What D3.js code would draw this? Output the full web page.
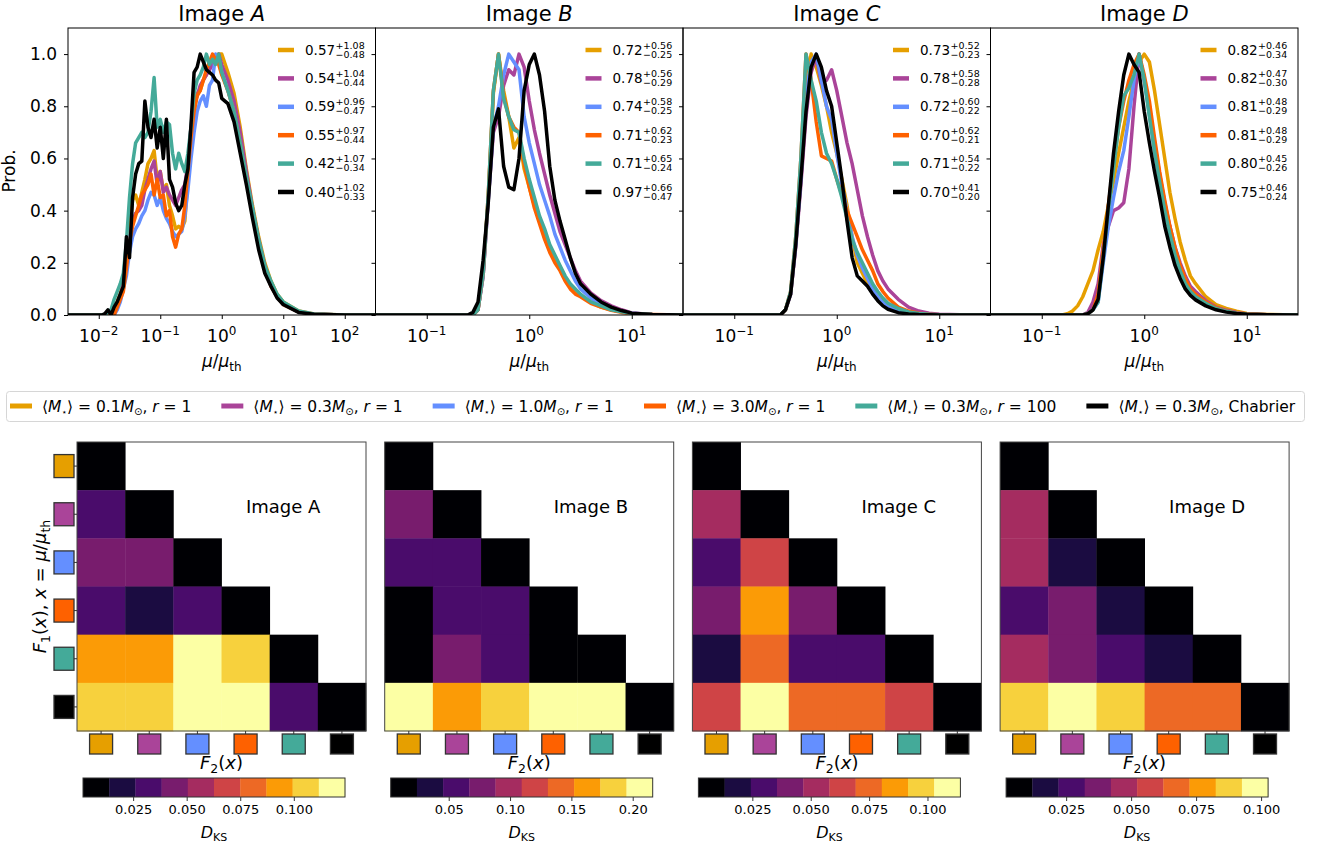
<!DOCTYPE html>
<html><head><meta charset="utf-8">
<script src="https://cdn.jsdelivr.net/npm/d3@7"></script>
<style>body{margin:0;background:#fff} svg{display:block} text{font-family:"DejaVu Sans",sans-serif;fill:#000}</style>
</head><body><svg id="c" width="1325" height="845"></svg>
<script>
// ---------------- DATA ----------------
const seriesColors = ["#E69F00","#AA4499","#648FFF","#FE6100","#44AA99","#000000"];
const seriesMass = ["0.1","0.3","1.0","3.0","0.3","0.3"];
const seriesTail = ["r1","r1","r1","r1","r100","Chabrier"];
const panelNames = ["A","B","C","D"];

// log10(mu/mu_th) grids
const gridA = [-2.5,-2.0,-1.95,-1.9,-1.85,-1.8,-1.75,-1.7,-1.65,-1.6,-1.55,-1.5,-1.45,-1.4,-1.35,-1.3,-1.25,-1.2,-1.15,-1.1,-1.05,-1.0,-0.95,-0.9,-0.85,-0.8,-0.75,-0.7,-0.65,-0.6,-0.55,-0.5,-0.45,-0.4,-0.35,-0.3,-0.25,-0.2,-0.15,-0.1,-0.05,0.0,0.1,0.2,0.3,0.4,0.5,0.6,0.7,0.8,0.9,1.0,1.25,1.5,2.0,2.5];
const gridBCD = [-1.5,-0.8,-0.75,-0.7,-0.65,-0.6,-0.55,-0.5,-0.45,-0.4,-0.35,-0.3,-0.25,-0.2,-0.15,-0.1,-0.05,0,0.05,0.1,0.15,0.2,0.25,0.3,0.35,0.4,0.45,0.5,0.6,0.7,0.8,0.9,1.0,1.2,1.5];

// Image A probabilities (gold, purple, blue, orange, teal, black)
const probA = [
 [0, 0,0,0,0,0, 0.02,0.05,0.08,0.13,0.24, 0.34,0.44,0.46,0.42,0.47, 0.52,0.58,0.60,0.63,0.52, 0.55,0.48,0.50,0.42,0.38, 0.33,0.34,0.33,0.36,0.52, 0.70,0.78,0.85,0.86,0.90, 0.92,0.95,0.97,0.99,1.0, 1.0,0.93,0.85,0.72,0.56, 0.42,0.30,0.20,0.13,0.08, 0.05,0.015,0.004,0,0],
 [0, 0,0,0,0,0, 0.01,0.04,0.07,0.12,0.20, 0.30,0.36,0.39,0.40,0.42, 0.48,0.52,0.56,0.59,0.50, 0.55,0.47,0.49,0.46,0.44, 0.42,0.45,0.48,0.50,0.58, 0.72,0.80,0.84,0.88,0.90, 0.92,0.94,0.96,0.99,1.0, 0.96,0.90,0.82,0.70,0.55, 0.41,0.29,0.19,0.12,0.075, 0.045,0.013,0.003,0,0],
 [0, 0,0,0,0,0, 0,0.02,0.05,0.10,0.15, 0.24,0.30,0.33,0.35,0.38, 0.40,0.44,0.47,0.46,0.42, 0.45,0.40,0.37,0.35,0.32, 0.30,0.31,0.32,0.38,0.48, 0.60,0.70,0.78,0.82,0.84, 0.80,0.88,0.90,1.0,0.98, 0.93,0.86,0.78,0.66,0.52, 0.39,0.27,0.18,0.11,0.07, 0.04,0.012,0.003,0,0],
 [0, 0,0,0,0,0, 0,0.03,0.06,0.09,0.18, 0.28,0.34,0.38,0.42,0.46, 0.48,0.50,0.54,0.46,0.52, 0.45,0.46,0.38,0.40,0.30, 0.26,0.31,0.33,0.42,0.55, 0.68,0.78,0.84,0.86,0.90, 0.94,0.97,1.0,0.98,0.96, 0.92,0.86,0.78,0.66,0.52, 0.39,0.27,0.18,0.11,0.07, 0.04,0.012,0.003,0,0],
 [0, 0,0,0,0.01,0.02, 0.06,0.09,0.12,0.16,0.28, 0.45,0.58,0.66,0.68,0.70, 0.68,0.70,0.78,0.91,0.72, 0.75,0.70,0.74,0.73,0.62, 0.56,0.62,0.58,0.55,0.62, 0.72,0.85,0.90,0.92,0.95, 1.0,0.96,0.98,0.96,1.0, 0.93,0.86,0.78,0.66,0.53, 0.41,0.29,0.19,0.13,0.08, 0.05,0.015,0.004,0,0],
 [0, 0,0,0.005,0.02,0.0, 0.03,0.05,0.08,0.11,0.30, 0.22,0.45,0.54,0.58,0.59, 0.82,0.72,0.68,0.75,0.64, 0.72,0.60,0.75,0.52,0.49, 0.43,0.40,0.42,0.50,0.56, 0.73,0.93,0.95,1.0,0.97, 0.94,0.93,0.92,0.90,0.89, 0.83,0.81,0.74,0.62,0.50, 0.37,0.25,0.16,0.11,0.065, 0.04,0.01,0.003,0,0]
];
const probB = [
 [0, 0,0,0,0,0, 0,0.02,0.15,0.45,0.85, 1.0,0.86,0.76,0.64,0.68, 0.56,0.49,0.42,0.36,0.30, 0.25,0.21,0.18,0.14,0.11, 0.09,0.075,0.05,0.03,0.02, 0.012,0.006,0.002,0],
 [0, 0,0,0,0,0, 0,0.02,0.15,0.44,0.70, 0.76,0.88,0.94,0.92,1.0, 0.95,0.82,0.71,0.62,0.54, 0.46,0.39,0.32,0.27,0.22, 0.17,0.13,0.085,0.055,0.035, 0.02,0.008,0.002,0],
 [0, 0,0,0,0,0, 0,0.02,0.15,0.44,0.72, 0.80,0.92,1.0,0.97,0.94, 0.76,0.66,0.58,0.50,0.44, 0.38,0.31,0.26,0.21,0.17, 0.13,0.10,0.065,0.04,0.025, 0.014,0.007,0.002,0],
 [0, 0,0,0,0,0, 0,0.02,0.16,0.46,0.86, 1.0,0.84,0.76,0.72,0.70, 0.58,0.49,0.41,0.35,0.29, 0.24,0.20,0.17,0.13,0.10, 0.08,0.07,0.045,0.03,0.018, 0.01,0.005,0.002,0],
 [0, 0,0,0,0,0, 0,0.02,0.16,0.46,0.86, 1.0,0.83,0.76,0.71,0.70, 0.60,0.52,0.45,0.38,0.33, 0.27,0.23,0.19,0.15,0.12, 0.10,0.08,0.05,0.035,0.02, 0.012,0.006,0.002,0],
 [0, 0,0,0,0,0, 0.01,0.05,0.21,0.43,0.72, 0.79,0.57,0.49,0.48,0.60, 0.86,0.96,1.0,0.92,0.78, 0.57,0.44,0.36,0.29,0.22, 0.16,0.12,0.08,0.05,0.03, 0.017,0.007,0.002,0]
];
const probC = [
 [0, 0,0,0,0,0, 0,0.02,0.08,0.27,0.52, 0.88,1.0,0.95,0.88,0.80, 0.70,0.62,0.52,0.42,0.30, 0.20,0.16,0.12,0.09,0.06, 0.04,0.03,0.015,0.008,0.004, 0.002,0.001,0,0],
 [0, 0,0,0,0,0, 0,0.02,0.08,0.26,0.50, 0.76,0.93,0.99,0.89,0.90, 0.94,0.86,0.76,0.66,0.58, 0.48,0.38,0.30,0.23,0.17, 0.13,0.10,0.06,0.03,0.015, 0.007,0.003,0.001,0],
 [0, 0,0,0,0,0, 0,0.02,0.08,0.27,0.52, 0.85,0.97,1.0,0.90,0.80, 0.75,0.62,0.50,0.40,0.30, 0.23,0.18,0.14,0.10,0.07, 0.05,0.035,0.018,0.009,0.004, 0.002,0.001,0,0],
 [0, 0,0,0,0,0, 0,0.02,0.09,0.30,0.60, 1.0,0.90,0.74,0.61,0.60, 0.59,0.52,0.46,0.40,0.35, 0.30,0.25,0.21,0.17,0.12, 0.09,0.065,0.03,0.015,0.007, 0.003,0.001,0,0],
 [0, 0,0,0,0,0, 0,0.02,0.09,0.30,0.60, 1.0,0.90,0.82,0.70,0.62, 0.58,0.52,0.45,0.37,0.29, 0.24,0.20,0.16,0.12,0.09, 0.065,0.045,0.025,0.012,0.006, 0.003,0.001,0,0],
 [0, 0,0,0,0,0, 0,0.02,0.08,0.27,0.52, 0.78,0.95,1.0,0.95,0.86, 0.80,0.66,0.52,0.36,0.22, 0.15,0.13,0.11,0.08,0.055, 0.035,0.022,0.009,0.004,0.002, 0.001,0,0,0]
];
const probD = [
 [0, 0,0.005,0.015,0.035,0.07, 0.12,0.17,0.25,0.32,0.42, 0.51,0.62,0.72,0.82,0.90, 0.97,1.0,0.97,0.86,0.73, 0.60,0.47,0.37,0.28,0.21, 0.15,0.12,0.07,0.04,0.025, 0.015,0.006,0.002,0],
 [0, 0,0,0,0,0, 0.01,0.05,0.12,0.27,0.34, 0.40,0.41,0.43,0.56,0.80, 1.0,0.90,0.80,0.66,0.54, 0.43,0.34,0.26,0.20,0.15, 0.11,0.09,0.055,0.03,0.018, 0.01,0.004,0.001,0],
 [0, 0,0,0,0,0, 0.005,0.02,0.05,0.20,0.34, 0.45,0.55,0.63,0.76,0.90, 1.0,0.90,0.77,0.63,0.51, 0.40,0.31,0.23,0.17,0.12, 0.09,0.07,0.045,0.025,0.014, 0.007,0.003,0.001,0],
 [0, 0,0,0,0,0, 0.005,0.02,0.08,0.25,0.42, 0.58,0.72,0.82,0.90,0.96, 1.0,0.92,0.82,0.68,0.55, 0.44,0.34,0.26,0.19,0.14, 0.10,0.08,0.05,0.028,0.015, 0.008,0.004,0.001,0],
 [0, 0,0,0,0,0, 0.005,0.02,0.05,0.22,0.40, 0.56,0.72,0.84,0.87,0.92, 1.0,0.90,0.76,0.63,0.51, 0.40,0.31,0.23,0.17,0.12, 0.09,0.07,0.045,0.025,0.014, 0.007,0.003,0.001,0],
 [0, 0,0,0,0,0, 0.005,0.02,0.06,0.22,0.42, 0.62,0.78,0.92,1.0,0.96, 0.93,0.78,0.66,0.55,0.45, 0.34,0.26,0.19,0.14,0.10, 0.075,0.058,0.035,0.02,0.011, 0.006,0.003,0.001,0]
];

// legend medians and errors per image
const medA = ["0.57","0.54","0.59","0.55","0.42","0.40"], plusA = ["1.08","1.04","0.96","0.97","1.07","1.02"], minusA = ["0.48","0.44","0.47","0.44","0.34","0.33"];
const medB = ["0.72","0.78","0.74","0.71","0.71","0.97"], plusB = ["0.56","0.56","0.58","0.62","0.65","0.66"], minusB = ["0.25","0.29","0.25","0.23","0.24","0.47"];
const medC = ["0.73","0.78","0.72","0.70","0.71","0.70"], plusC = ["0.52","0.58","0.60","0.62","0.54","0.41"], minusC = ["0.23","0.28","0.22","0.21","0.22","0.20"];
const medD = ["0.82","0.82","0.81","0.81","0.80","0.75"], plusD = ["0.46","0.47","0.48","0.48","0.45","0.46"], minusD = ["0.34","0.30","0.29","0.29","0.26","0.24"];

const yTicks = [0,0.2,0.4,0.6,0.8,1.0];
const xDecadesA = [-2,-1,0,1,2];
const xDecadesBCD = [-1,0,1];

// KS distance lower-triangle matrices (row = F1, col = F2)
const dksA = [[0],[0.030,0],[0.046,0.045,0],[0.033,0.020,0.035,0],[0.092,0.094,0.124,0.106,0],[0.105,0.107,0.120,0.118,0.033,0]];
const dksB = [[0],[0.078,0],[0.057,0.055,0],[0.012,0.052,0.058,0],[0.010,0.080,0.060,0.014,0],[0.210,0.160,0.185,0.216,0.205,0]];
const dksC = [[0],[0.052,0],[0.030,0.064,0],[0.041,0.086,0.042,0],[0.019,0.075,0.031,0.029,0],[0.063,0.114,0.074,0.076,0.065,0]];
const dksD = [[0],[0.047,0],[0.048,0.017,0],[0.027,0.037,0.016,0],[0.046,0.038,0.028,0.018,0],[0.088,0.1027,0.087,0.067,0.068,0]];
const cbarDomA = [0.0016,0.1239], cbarDomB = [0.0027,0.2163], cbarDomC = [0.0019,0.1141], cbarDomD = [0.0019,0.1027];
const cbarTicksA = [0.025,0.05,0.075,0.1], cbarTicksB = [0.05,0.1,0.15,0.2], cbarTicksC = [0.025,0.05,0.075,0.1], cbarTicksD = [0.025,0.05,0.075,0.1];
const cbarFmt = [".3f",".2f",".3f",".3f"];
const nBins = 10;

// ---------------- DRAW ----------------
const svg = d3.select("#c");
const FONT = "DejaVu Sans";

function runs(t, list){ // list of [text, opts]
  let off = 0;
  list.forEach(([s,o])=>{
    o = o||{};
    const ts = t.append("tspan").text(s);
    if(o.it) ts.attr("font-style","italic");
    if(o.size) ts.attr("font-size",o.size);
    const target = o.shift||0;
    if(target!==off){ ts.attr("dy", target-off); off = target; }
  });
  return t;
}

const topX0 = 68, topStep = 307.5, topW = 307.5, topY0 = 28, topY1 = 315;
const yScale = d3.scaleLinear().domain([0,1.1]).range([topY1, topY0]);
const probs = [probA, probB, probC, probD];
const meds = [medA,medB,medC,medD], pluses=[plusA,plusB,plusC,plusD], minuses=[minusA,minusB,minusC,minusD];

panelNames.forEach((name,pi)=>{
  const x0 = topX0 + pi*topStep;
  const lo = pi===0 ? -2.5 : -1.5, hi = -lo;
  const xs = d3.scaleLog().domain([10**lo, 10**hi]).range([x0, x0+topW]);
  const grid = pi===0 ? gridA : gridBCD;
  const g = svg.append("g");
  const clipId = "clip"+pi;
  svg.append("clipPath").attr("id",clipId).append("rect")
    .attr("x",x0).attr("y",topY0).attr("width",topW).attr("height",topY1-topY0);
  const line = d3.line().x((d,i)=>xs(10**grid[i])).y(d=>yScale(d));
  probs[pi].forEach((arr,si)=>{
    g.append("path").attr("clip-path",`url(#${clipId})`).attr("d",line(arr))
      .attr("fill","none").attr("stroke",seriesColors[si]).attr("stroke-width",3.5)
      .attr("stroke-linejoin","round");
  });
  g.append("rect").attr("x",x0).attr("y",topY0).attr("width",topW).attr("height",topY1-topY0)
    .attr("fill","none").attr("stroke","#000").attr("stroke-width",1);
  // x axis
  const decs = pi===0 ? xDecadesA : xDecadesBCD;
  const xa = g.append("g").attr("transform",`translate(0,${topY1})`)
    .call(d3.axisBottom(xs).tickValues(decs.map(e=>10**e)).tickSize(4).tickFormat(""));
  xa.select(".domain").remove();
  xa.selectAll(".tick line").attr("stroke","#000");
  decs.forEach(e=>{
    const t = g.append("text").attr("x",xs(10**e)).attr("y",342).attr("text-anchor","middle")
      .attr("font-size",17);
    runs(t,[["10",{}],[(e<0?"\u2212":"")+Math.abs(e),{size:12,shift:-7}]]);
  });
  const xl = g.append("text").attr("x",x0+topW/2).attr("y",367).attr("text-anchor","middle").attr("font-size",17);
  runs(xl,[["\u03bc",{it:true}],["/",{}],["\u03bc",{it:true}],["th",{size:12,shift:4}]]);
  // y axis
  const ya = g.append("g").attr("transform",`translate(${x0},0)`)
    .call(d3.axisLeft(yScale).tickValues(yTicks).tickSize(4).tickPadding(7)
      .tickFormat(pi===0 ? d3.format(".1f") : ""));
  ya.select(".domain").remove();
  ya.selectAll(".tick line").attr("stroke","#000");
  ya.selectAll(".tick text").attr("font-size",17).attr("font-family",FONT).attr("fill","#000");
  // title
  const tt = g.append("text").attr("x",x0+topW/2).attr("y",21).attr("text-anchor","middle").attr("font-size",21);
  runs(tt,[["Image ",{}],[name,{it:true}]]);
  // legend
  seriesColors.forEach((c,si)=>{
    const ry = 50 + si*28.4;
    g.append("line").attr("x1",x0+210).attr("x2",x0+226).attr("y1",ry).attr("y2",ry)
      .attr("stroke",c).attr("stroke-width",4.5);
    const mt = g.append("text").attr("x",x0+237).attr("y",ry+4.5).attr("font-size",13.5).text(meds[pi][si]);
    const w = mt.node().getComputedTextLength();
    g.append("text").attr("x",x0+237+w+0.5).attr("y",ry-1.5).attr("font-size",9.5).text("+"+pluses[pi][si]);
    g.append("text").attr("x",x0+237+w+0.5).attr("y",ry+7.5).attr("font-size",9.5).text("\u2212"+minuses[pi][si]);
  });
});
svg.append("text").attr("transform","translate(15,171) rotate(-90)").attr("text-anchor","middle")
  .attr("font-size",17).text("Prob.");

// ---- middle legend ----
const lg = svg.append("g");
lg.append("rect").attr("x",6.5).attr("y",391.5).attr("width",1298).attr("height",30).attr("rx",3)
  .attr("fill","#fff").attr("stroke","#d6d6d6").attr("stroke-width",1);
let lx = 10;
seriesColors.forEach((c,si)=>{
  lg.append("line").attr("x1",lx).attr("x2",lx+22).attr("y1",406).attr("y2",406)
    .attr("stroke",c).attr("stroke-width",5);
  const t = lg.append("text").attr("x",lx+32).attr("y",411.5).attr("font-size",15.5);
  const tail = seriesTail[si]==="Chabrier" ? [[", Chabrier",{}]] :
    [[", ",{}],["r",{it:true}],[" = "+seriesTail[si].slice(1),{}]];
  runs(t,[["\u27e8",{}],["M",{it:true}],["\u22c6",{size:9,shift:3}],["\u27e9 = "+seriesMass[si],{}],["M",{it:true}],["\u2299",{size:10,shift:3}]].concat(tail));
  lx = lx + 32 + t.node().getComputedTextLength() + 30;
});

// ---- heatmaps ----
const hmX0 = 77, hmStep = 307.7, hmSize = 289, hmTop = 442;
const dks = [dksA,dksB,dksC,dksD];
const cDoms = [cbarDomA,cbarDomB,cbarDomC,cbarDomD];
const cTicks = [cbarTicksA,cbarTicksB,cbarTicksC,cbarTicksD];
const binColors = d3.range(nBins).map(k=>d3.interpolateInferno(k/(nBins-1)));
const idx = d3.range(6);

panelNames.forEach((name,pi)=>{
  const hx = hmX0 + pi*hmStep;
  const bx = d3.scaleBand().domain(idx).range([hx, hx+hmSize]);
  const by = d3.scaleBand().domain(idx).range([hmTop, hmTop+hmSize]);
  const col = d3.scaleQuantize().domain(cDoms[pi]).range(binColors);
  const g = svg.append("g");
  g.append("rect").attr("x",hx).attr("y",hmTop).attr("width",hmSize).attr("height",hmSize).attr("fill","#fff");
  dks[pi].forEach((row,i)=>row.forEach((v,j)=>{
    g.append("rect").attr("x",bx(j)).attr("y",by(i)).attr("width",bx.bandwidth()+0.4).attr("height",by.bandwidth()+0.4)
      .attr("fill",col(v));
  }));
  g.append("rect").attr("x",hx).attr("y",hmTop).attr("width",hmSize).attr("height",hmSize)
    .attr("fill","none").attr("stroke","#444").attr("stroke-width",1);
  // markers
  idx.forEach(k=>{
    const cy = by(k)+by.bandwidth()/2, cx = bx(k)+bx.bandwidth()/2;
    if(pi===0){
      g.append("line").attr("x1",hx-3.5).attr("x2",hx).attr("y1",cy).attr("y2",cy).attr("stroke","#333");
      g.append("rect").attr("x",hx-23).attr("y",cy-11.5).attr("width",20).attr("height",23)
        .attr("fill",seriesColors[k]).attr("stroke","#333").attr("stroke-width",1.3);
    }
    g.append("line").attr("x1",cx).attr("x2",cx).attr("y1",hmTop+hmSize).attr("y2",hmTop+hmSize+3.5).attr("stroke","#333");
    g.append("rect").attr("x",cx-11.5).attr("y",hmTop+hmSize+3).attr("width",23).attr("height",20)
      .attr("fill",seriesColors[k]).attr("stroke","#333").attr("stroke-width",1.3);
  });
  g.append("text").attr("x",hx+169).attr("y",513).attr("font-size",18).text("Image "+name);
  const fl = g.append("text").attr("x",hx+hmSize/2).attr("y",769).attr("text-anchor","middle").attr("font-size",18);
  runs(fl,[["F",{it:true}],["2",{size:12.5,shift:4}],["(",{}],["x",{it:true}],[")",{}]]);
  // colorbar
  const cx0 = hx+6, cw = 262, cy0 = 778, ch = 19;
  const cs = d3.scaleLinear().domain(cDoms[pi]).range([cx0, cx0+cw]);
  const segW = cw/nBins;
  binColors.forEach((c,k)=>{
    g.append("rect").attr("x",cx0+k*segW).attr("y",cy0).attr("width",segW+0.3).attr("height",ch).attr("fill",c);
  });
  g.append("rect").attr("x",cx0).attr("y",cy0).attr("width",cw).attr("height",ch)
    .attr("fill","none").attr("stroke","#333").attr("stroke-width",1);
  const ca = g.append("g").attr("transform",`translate(0,${cy0+ch})`)
    .call(d3.axisBottom(cs).tickValues(cTicks[pi]).tickSize(4).tickPadding(4).tickFormat(d3.format(cbarFmt[pi])));
  ca.select(".domain").remove();
  ca.selectAll(".tick line").attr("stroke","#333");
  ca.selectAll(".tick text").attr("font-size",13).attr("font-family",FONT).attr("fill","#000");
  const dl = g.append("text").attr("x",cx0+cw/2).attr("y",838).attr("text-anchor","middle").attr("font-size",16);
  runs(dl,[["D",{it:true}],["KS",{size:11,shift:3}]]);
});
const yl = svg.append("text").attr("transform",`translate(46,${hmTop+hmSize/2}) rotate(-90)`)
  .attr("text-anchor","middle").attr("font-size",18);
runs(yl,[["F",{it:true}],["1",{size:12.5,shift:4}],["(",{shift:0}],["x",{it:true}],["),  ",{}],["x",{it:true}],[" = ",{}],["\u03bc",{it:true}],["/",{}],["\u03bc",{it:true}],["th",{size:12.5,shift:4}]]);
</script></body></html>
